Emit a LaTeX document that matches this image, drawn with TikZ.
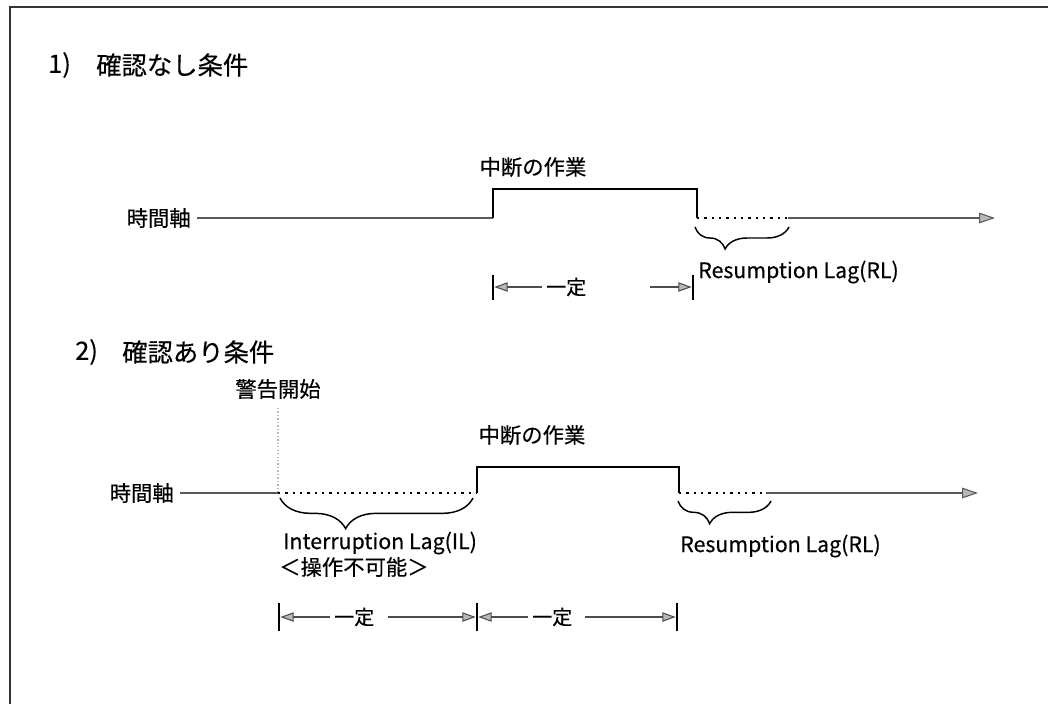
\documentclass[tikz,border=0pt]{standalone}
\usepackage{fontspec}
\newfontfamily\jp[FakeBold=0.35]{Noto Sans CJK JP}
\usetikzlibrary{arrows.meta,decorations.pathreplacing}
\begin{document}
\begin{tikzpicture}[x=0.75pt,y=-0.75pt,
  lbl/.style={font=\jp\fontsize{16pt}{18pt}\selectfont, inner sep=0pt},
  kt/.style={font=\jp\fontsize{15pt}{17pt}\selectfont, inner sep=0pt},
  ttl/.style={font=\jp\fontsize{19pt}{22pt}\selectfont, inner sep=0pt},
  frame/.style={draw=black!80, line width=1.1pt},
  axis/.style={draw=black!65, line width=1.8pt},
  pulse/.style={draw=black, line width=1.6pt},
  dots/.style={draw=black, line width=2.2pt, dash pattern=on 1.7pt off 3.8pt},
  axhead/.style={-{Triangle[length=12pt,width=8pt,fill=gray!55,line width=0.8pt]}},
  dim/.style={draw=gray!60!black, line width=2.1pt, -{Triangle[length=10pt,width=7pt,fill=gray!55,line width=0.8pt]}},
  bar/.style={draw=black, line width=1.3pt},
  warnline/.style={draw=gray!55, line width=0.8pt, dash pattern=on 1pt off 1.6pt},
  brc/.style={draw=black, line width=1.1pt, decorate},
]
\useasboundingbox (0,0) rectangle (1048,704);
% frame
\coordinate (fb) at (10,704);
\coordinate (fc) at (10,7);
\coordinate (fr) at (1048,7);
\draw[frame] (fb) -- (fc) -- (fr);

% ---------- section 1 ----------
\node[ttl,anchor=west] (n1) at (48,65) {1)};
\node[ttl,anchor=west] (t1) at (96,65) {確認なし条件};

\node[lbl,anchor=east] (ax1) at (191,218) {時間軸};
\coordinate (a1s) at (197,218);
\coordinate (u1) at (493,218);
\coordinate (u1t) at (493,189);
\coordinate (d1t) at (697,189);
\coordinate (d1) at (697,218);
\coordinate (r1e) at (788,218);
\coordinate (a1e) at (995,218);
\draw[axis] (a1s) -- (u1);
\draw[pulse] (u1) -- (u1t) -- (d1t) -- (d1);
\draw[dots] (d1) -- (r1e);
\draw[axis,axhead] (r1e) -- (a1e);
\node[lbl] (w1) at (533,167) {中断の作業};

\coordinate (b1l) at (695,227);
\coordinate (b1r) at (789,227);
\draw[brc,decoration={brace,mirror,amplitude=16.5pt,aspect=0.32}] (b1l) -- (b1r);
\node[lbl,anchor=west] (rl1) at (698,272) {Resumption Lag(RL)};

\coordinate (p1a) at (493,287);
\coordinate (p1b) at (693,287);
\draw[bar] (p1a) ++(0,-12) -- ++(0,25);
\draw[bar] (p1b) ++(0,-12) -- ++(0,25);
\node[kt,anchor=west] (k1) at (546,287) {一定};
\coordinate (q1) at (650,287);
\draw[dim] ([xshift=-3pt]k1.west) -- ([xshift=1pt]p1a);
\draw[dim] (q1) -- ([xshift=-1pt]p1b);

% ---------- section 2 ----------
\node[ttl,anchor=west] (n2) at (75,352) {2)};
\node[ttl,anchor=west] (t2) at (122,352) {確認あり条件};

\node[lbl] (warn) at (278,389) {警告開始};
\coordinate (wt) at (278,408);

\node[lbl,anchor=east] (ax2) at (174,493) {時間軸};
\coordinate (a2s) at (180,493);
\coordinate (w2) at (278,493);
\coordinate (u2) at (477,493);
\coordinate (u2t) at (477,467);
\coordinate (d2t) at (679,467);
\coordinate (d2) at (679,493);
\coordinate (r2e) at (766,493);
\coordinate (a2e) at (978,493);
\draw[warnline] (wt) -- (w2);
\draw[axis] (a2s) -- (w2);
\draw[dots] (w2) -- (u2);
\draw[pulse] (u2) -- (u2t) -- (d2t) -- (d2);
\draw[dots] (d2) -- (r2e);
\draw[axis,axhead] (r2e) -- (a2e);
\node[lbl] (w2l) at (532,435) {中断の作業};

\coordinate (b2l) at (280,498);
\coordinate (b2r) at (473,498);
\draw[brc,decoration={brace,mirror,amplitude=23pt,aspect=0.34}] (b2l) -- (b2r);
\node[lbl,anchor=west] (il) at (283,543) {Interruption Lag(IL)};
\node[lbl,anchor=west] (ng) at (279,567) {＜操作不可能＞};

\coordinate (b3l) at (678,501);
\coordinate (b3r) at (771,501);
\draw[brc,decoration={brace,mirror,amplitude=17pt,aspect=0.34}] (b3l) -- (b3r);
\node[lbl,anchor=west] (rl2) at (680,546) {Resumption Lag(RL)};

\coordinate (p2a) at (279,617);
\coordinate (p2b) at (477,617);
\coordinate (p2c) at (677,617);
\draw[bar] (p2a) ++(0,-14) -- ++(0,28);
\draw[bar] (p2b) ++(0,-14) -- ++(0,28);
\draw[bar] (p2c) ++(0,-14) -- ++(0,28);
\node[kt,anchor=west] (k2) at (334,617) {一定};
\node[kt,anchor=west] (k3) at (532,617) {一定};
\coordinate (q2) at (388,617);
\coordinate (q3) at (585,617);
\draw[dim] ([xshift=-3pt]k2.west) -- ([xshift=1pt]p2a);
\draw[dim] (q2) -- ([xshift=-1pt]p2b);
\draw[dim] ([xshift=-3pt]k3.west) -- ([xshift=1pt]p2b);
\draw[dim] (q3) -- ([xshift=-1pt]p2c);
\end{tikzpicture}
\end{document}
